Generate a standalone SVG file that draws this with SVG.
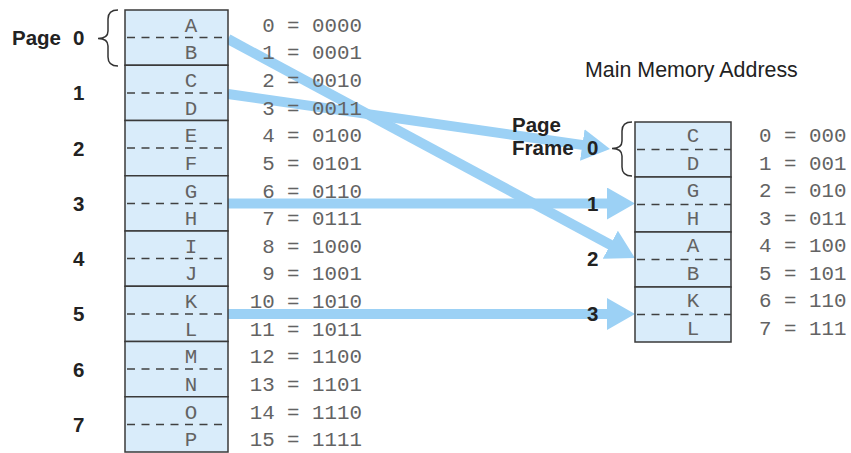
<svg xmlns="http://www.w3.org/2000/svg" width="851" height="453" viewBox="0 0 851 453">
<defs>
<style>
.cell{fill:#d9ecfa;stroke:#3a3a3a;stroke-width:1.5}
.dash{stroke:#404040;stroke-width:1.5;stroke-dasharray:8 6.5;fill:none}
.mono{font-family:"Liberation Mono","Courier New",monospace;font-size:20.8px;fill:#636363}
.let{text-anchor:middle}
.addr{text-anchor:end}
.lbl{font-family:"Liberation Sans",Arial,Helvetica,sans-serif;font-weight:bold;font-size:20.5px;fill:#222}
.ttl{font-family:"Liberation Sans",Arial,Helvetica,sans-serif;font-size:21.4px;fill:#222}
.brace{fill:none;stroke:#333;stroke-width:1.5}
.arr{stroke:#9cd1f5;stroke-width:10;fill:none;marker-end:url(#head)}
</style>
<marker id="head" markerUnits="userSpaceOnUse" markerWidth="28" markerHeight="32" viewBox="0 0 28 32" refX="10" refY="16" orient="auto">
<path d="M0,0 L28,16 L0,32 Z" fill="#9cd1f5"/>
</marker>
</defs>
<rect width="851" height="453" fill="#fff"/>

<g id="connectors">
<line class="arr" x1="228" y1="39" x2="619.1" y2="249.5"/>
<line class="arr" x1="228" y1="94" x2="592.2" y2="146.4"/>
<line class="arr" x1="228" y1="203.5" x2="617" y2="203.5"/>
<line class="arr" x1="228" y1="314" x2="617" y2="314"/>
</g>

<g id="page0">
<rect class="cell" x="125" y="10" width="103" height="55.25"/>
<line class="dash" x1="127" y1="37.6" x2="228" y2="37.6"/>
<text class="mono let" x="191" y="31.8">A</text>
<text class="mono let" x="191" y="59.4">B</text>
<text class="mono addr" x="362" y="31.8">0 = 0000</text>
<text class="mono addr" x="362" y="59.4">1 = 0001</text>
<text class="lbl" x="12" y="45">Page</text>
<text class="lbl" x="73" y="45">0</text>
<path class="brace" d="M118,10 Q108,10 108,19 L108,31 Q108,38.5 98,38.5 Q108,38.5 108,46 L108,57 Q108,66 118,66"/>
</g>
<g id="page1">
<rect class="cell" x="125" y="65.25" width="103" height="55.25"/>
<line class="dash" x1="127" y1="92.9" x2="228" y2="92.9"/>
<text class="mono let" x="191" y="87.1">C</text>
<text class="mono let" x="191" y="114.7">D</text>
<text class="mono addr" x="362" y="87.1">2 = 0010</text>
<text class="mono addr" x="362" y="114.7">3 = 0011</text>
<text class="lbl" x="73" y="100.3">1</text>
</g>
<g id="page2">
<rect class="cell" x="125" y="120.5" width="103" height="55.25"/>
<line class="dash" x1="127" y1="148.1" x2="228" y2="148.1"/>
<text class="mono let" x="191" y="142.3">E</text>
<text class="mono let" x="191" y="169.9">F</text>
<text class="mono addr" x="362" y="142.3">4 = 0100</text>
<text class="mono addr" x="362" y="169.9">5 = 0101</text>
<text class="lbl" x="73" y="155.5">2</text>
</g>
<g id="page3">
<rect class="cell" x="125" y="175.75" width="103" height="55.25"/>
<line class="dash" x1="127" y1="203.4" x2="228" y2="203.4"/>
<text class="mono let" x="191" y="197.6">G</text>
<text class="mono let" x="191" y="225.2">H</text>
<text class="mono addr" x="362" y="197.6">6 = 0110</text>
<text class="mono addr" x="362" y="225.2">7 = 0111</text>
<text class="lbl" x="73" y="210.8">3</text>
</g>
<g id="page4">
<rect class="cell" x="125" y="231" width="103" height="55.25"/>
<line class="dash" x1="127" y1="258.6" x2="228" y2="258.6"/>
<text class="mono let" x="191" y="252.8">I</text>
<text class="mono let" x="191" y="280.4">J</text>
<text class="mono addr" x="362" y="252.8">8 = 1000</text>
<text class="mono addr" x="362" y="280.4">9 = 1001</text>
<text class="lbl" x="73" y="266">4</text>
</g>
<g id="page5">
<rect class="cell" x="125" y="286.25" width="103" height="55.25"/>
<line class="dash" x1="127" y1="313.9" x2="228" y2="313.9"/>
<text class="mono let" x="191" y="308.1">K</text>
<text class="mono let" x="191" y="335.7">L</text>
<text class="mono addr" x="362" y="308.1">10 = 1010</text>
<text class="mono addr" x="362" y="335.7">11 = 1011</text>
<text class="lbl" x="73" y="321.3">5</text>
</g>
<g id="page6">
<rect class="cell" x="125" y="341.5" width="103" height="55.25"/>
<line class="dash" x1="127" y1="369.1" x2="228" y2="369.1"/>
<text class="mono let" x="191" y="363.3">M</text>
<text class="mono let" x="191" y="390.9">N</text>
<text class="mono addr" x="362" y="363.3">12 = 1100</text>
<text class="mono addr" x="362" y="390.9">13 = 1101</text>
<text class="lbl" x="73" y="376.5">6</text>
</g>
<g id="page7">
<rect class="cell" x="125" y="396.75" width="103" height="55.25"/>
<line class="dash" x1="127" y1="424.4" x2="228" y2="424.4"/>
<text class="mono let" x="191" y="418.6">O</text>
<text class="mono let" x="191" y="446.2">P</text>
<text class="mono addr" x="362" y="418.6">14 = 1110</text>
<text class="mono addr" x="362" y="446.2">15 = 1111</text>
<text class="lbl" x="73" y="431.8">7</text>
</g>

<g id="title">
<text class="ttl" x="585" y="77">Main Memory Address</text>
</g>

<g id="frame0">
<rect class="cell" x="635" y="122" width="96" height="55"/>
<line class="dash" x1="637" y1="149.5" x2="731" y2="149.5"/>
<text class="mono let" x="693" y="142">C</text>
<text class="mono let" x="693" y="169.5">D</text>
<text class="mono" x="759" y="142">0 = 000</text>
<text class="mono" x="759" y="169.5">1 = 001</text>
<text class="lbl" x="512" y="132">Page</text>
<text class="lbl" x="512" y="155">Frame</text>
<text class="lbl" x="587" y="155">0</text>
<path class="brace" d="M632,122 Q622,122 622,131 L622,141 Q622,148.5 612,148.5 Q622,148.5 622,156 L622,167 Q622,176 632,176"/>
</g>
<g id="frame1">
<rect class="cell" x="635" y="177" width="96" height="55"/>
<line class="dash" x1="637" y1="204.5" x2="731" y2="204.5"/>
<text class="mono let" x="693" y="197">G</text>
<text class="mono let" x="693" y="224.5">H</text>
<text class="mono" x="759" y="197">2 = 010</text>
<text class="mono" x="759" y="224.5">3 = 011</text>
<text class="lbl" x="587" y="211">1</text>
</g>
<g id="frame2">
<rect class="cell" x="635" y="232" width="96" height="55"/>
<line class="dash" x1="637" y1="259.5" x2="731" y2="259.5"/>
<text class="mono let" x="693" y="252">A</text>
<text class="mono let" x="693" y="279.5">B</text>
<text class="mono" x="759" y="252">4 = 100</text>
<text class="mono" x="759" y="279.5">5 = 101</text>
<text class="lbl" x="587" y="266">2</text>
</g>
<g id="frame3">
<rect class="cell" x="635" y="287" width="96" height="55"/>
<line class="dash" x1="637" y1="314.5" x2="731" y2="314.5"/>
<text class="mono let" x="693" y="307">K</text>
<text class="mono let" x="693" y="334.5">L</text>
<text class="mono" x="759" y="307">6 = 110</text>
<text class="mono" x="759" y="334.5">7 = 111</text>
<text class="lbl" x="587" y="321">3</text>
</g>
</svg>
